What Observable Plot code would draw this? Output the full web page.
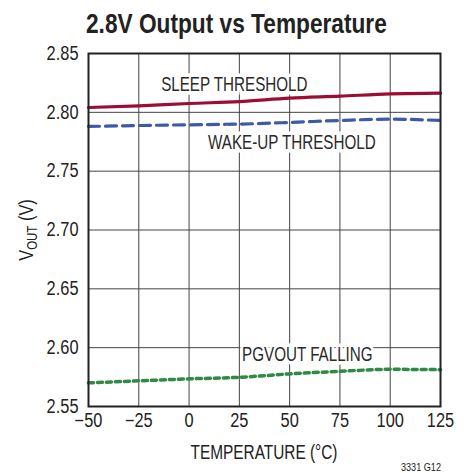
<!DOCTYPE html>
<html>
<head>
<meta charset="utf-8">
<script src="https://cdn.jsdelivr.net/npm/d3@7"></script>
<script src="https://cdn.jsdelivr.net/npm/@observablehq/plot@0.6"></script>
<style>
  body { margin: 0; background: #fff; }
  #wrap { position: relative; width: 466px; height: 473px; overflow: hidden; }
  #title { position: absolute; left: 86px; top: 8px; font-family: "Liberation Sans", Arial, sans-serif; font-weight: bold; font-size: 28px; line-height: 32px; color: #222; white-space: nowrap; transform: scaleX(0.81); transform-origin: 0 0; }
  #chart { position: absolute; left: 0; top: 0; }
</style>
</head>
<body>
<div id="wrap">
  <div id="chart"></div>
  <div id="title">2.8V Output vs Temperature</div>
</div>
<script>
const temps = [-50, -25, 0, 25, 50, 75, 100, 125];
const sleep = [2.8041, 2.8055, 2.8075, 2.8091, 2.8120, 2.8137, 2.8157, 2.8163];
const wake = [2.7880, 2.7888, 2.7894, 2.7900, 2.7914, 2.7931, 2.7942, 2.7931];
const pgv = [2.5701, 2.5718, 2.5735, 2.5748, 2.5777, 2.5799, 2.5816, 2.5813];
const xTicks = [-50, -25, 0, 25, 50, 75, 100, 125];
const yTicks = [2.55, 2.60, 2.65, 2.70, 2.75, 2.80, 2.85];
const labels = [
  {t: 22.5, v: 2.8233, text: "SLEEP THRESHOLD"},
  {t: 51.1, v: 2.7742, text: "WAKE-UP THRESHOLD"},
  {t: 58.8, v: 2.5940, text: "PGVOUT FALLING"}
];

const rows = (arr) => temps.map((t, i) => ({t, v: arr[i]}));
const font = '"Liberation Sans", Arial, sans-serif';

const chart = Plot.plot({
  width: 466, height: 473,
  marginTop: 53, marginBottom: 67, marginLeft: 88, marginRight: 26,
  style: {fontFamily: font, fontSize: "19.5px", color: "#222", background: "transparent"},
  x: {domain: [-50, 125]},
  y: {domain: [2.55, 2.85]},
  marks: [
    Plot.gridX(xTicks, {stroke: "#444", strokeOpacity: 1, strokeWidth: 1}),
    Plot.gridY(yTicks, {stroke: "#444", strokeOpacity: 1, strokeWidth: 1}),
    Plot.line(rows(sleep), {x: "t", y: "v", stroke: "#9b0d35", strokeWidth: 3.2, curve: "monotone-x"}),
    Plot.line(rows(wake), {x: "t", y: "v", stroke: "#3c5aa6", strokeWidth: 3.2, strokeDasharray: "11,6", curve: "monotone-x"}),
    Plot.line(rows(pgv), {x: "t", y: "v", stroke: "#2e8a45", strokeWidth: 3.5, strokeDasharray: "5,4", curve: "monotone-x"}),
    Plot.text(labels, {x: "t", y: "v", text: "text", fill: "#2a2a2a", fontSize: 19.5, stroke: "white", strokeWidth: 7, strokeLinejoin: "miter"}),
    Plot.frame({stroke: "#222", strokeWidth: 2}),
    Plot.axisX(xTicks, {tickSize: 0, tickPadding: 7, label: null, fontSize: 19.5}),
    Plot.axisY(yTicks, {tickSize: 0, tickPadding: 10, label: null, tickFormat: d3.format(".2f"), fontSize: 19.5})
  ]
});
document.getElementById("chart").append(chart);

const svg = d3.select(chart);
function condense(sel, s) {
  sel.each(function () {
    const x = +this.getAttribute("x") || 0, y = +this.getAttribute("y") || 0;
    const t = this.getAttribute("transform") || "";
    this.setAttribute("transform", `${t} translate(${x},${y}) scale(${s},1) translate(${-x},${-y})`);
  });
}
condense(svg.selectAll('g[aria-label="x-axis tick label"] text, g[aria-label="y-axis tick label"] text'), 0.84);
condense(svg.selectAll('g[aria-label="text"] text'), 0.78);

svg.append("text")
  .attr("transform", "translate(264,459) scale(0.77,1)")
  .attr("text-anchor", "middle")
  .attr("font-family", font).attr("font-size", 20).attr("fill", "#222")
  .text("TEMPERATURE (°C)");
const yl = svg.append("text")
  .attr("transform", "translate(33,230) rotate(-90) scale(0.82,1)")
  .attr("text-anchor", "middle")
  .attr("font-family", font).attr("font-size", 20).attr("fill", "#222");
yl.append("tspan").text("V");
yl.append("tspan").attr("font-size", 14).attr("dy", 4).text("OUT");
yl.append("tspan").attr("dy", -4).text(" (V)");
svg.append("text")
  .attr("transform", "translate(441,471) scale(0.83,1)")
  .attr("text-anchor", "end")
  .attr("font-family", font).attr("font-size", 11).attr("fill", "#222")
  .text("3331 G12");
</script>
</body>
</html>
